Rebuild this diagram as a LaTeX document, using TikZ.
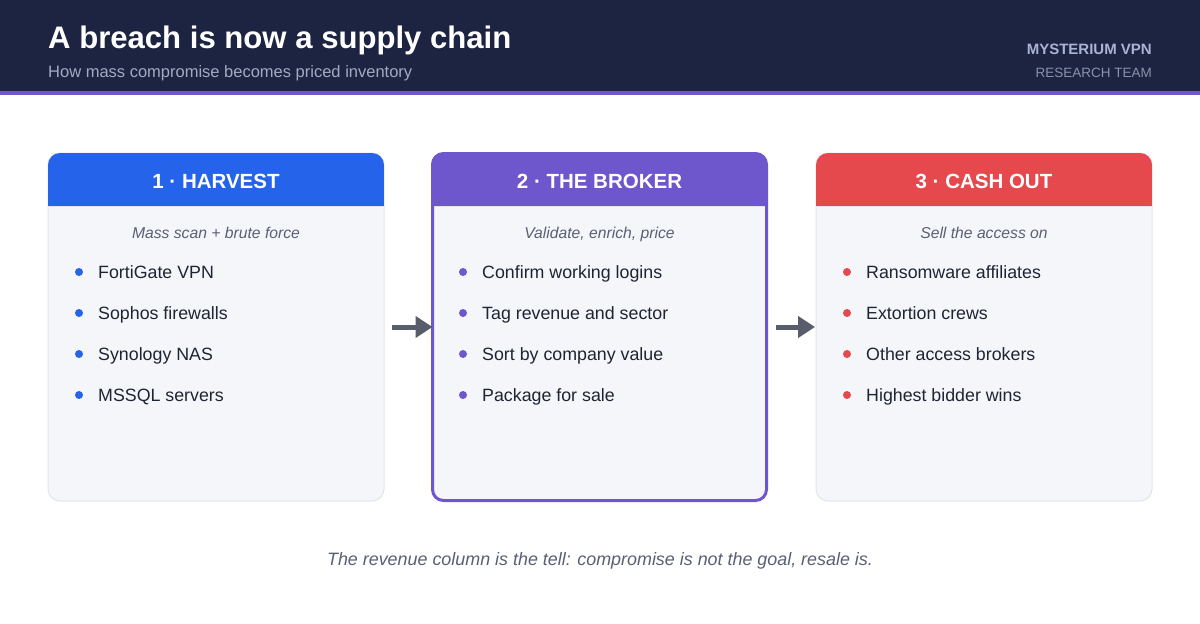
\documentclass[tikz,border=0pt]{standalone}
\usepackage{fontspec}
\setmainfont{Liberation Sans}
\usetikzlibrary{arrows.meta}
\definecolor{navy}{HTML}{1D2442}
\definecolor{stripe}{HTML}{7058C8}
\definecolor{cblue}{HTML}{2563EB}
\definecolor{cpurple}{HTML}{6E56CC}
\definecolor{cred}{HTML}{E5484D}
\definecolor{cardbg}{HTML}{F5F6FA}
\definecolor{cardline}{HTML}{E2E5EC}
\definecolor{bodytxt}{HTML}{1F2433}
\definecolor{subtxt}{HTML}{5A5F73}
\definecolor{arrowc}{HTML}{575D6B}
\definecolor{brand}{HTML}{A9B4D2}
\definecolor{team}{HTML}{8A91A8}
\definecolor{hsub}{HTML}{A3AAC0}
\newcommand{\fsz}[1]{\fontsize{#1}{#1}\selectfont}
\begin{document}
\begin{tikzpicture}[x=1pt,y=-1pt,
  card/.style={rounded corners=12pt, fill=cardbg, inner sep=0pt, outer sep=0pt},
  cardtitle/.style={anchor=base, text=white, font=\fsz{20.5}\bfseries, inner sep=0pt},
  cardsub/.style={anchor=base, text=subtxt, font=\fsz{15.7}\itshape, inner sep=0pt},
  item/.style={anchor=base west, text=bodytxt, font=\fsz{17.8}, inner sep=0pt},
  flow/.style={draw=arrowc, line width=5pt, -{Triangle[length=17pt,width=21pt]}}
]
\useasboundingbox (0,0) rectangle (1200,624);
\fill[white] (0,0) rectangle (1200,624);
% header band
\fill[navy] (0,0) rectangle (1200,91);
\fill[stripe] (0,91) rectangle (1200,95);
\node[anchor=base west, inner sep=0pt, text=white, font=\fsz{31.1}\bfseries] (title) at (48,48) {A breach is now a supply chain};
\node[anchor=base west, inner sep=0pt, text=hsub, font=\fsz{16.5}] (subtitle) at (48,77) {How mass compromise becomes priced inventory};
\node[anchor=base east, inner sep=0pt, text=brand, font=\fsz{15}\bfseries] (brand) at (1152,54) {MYSTERIUM VPN};
\node[anchor=base east, inner sep=0pt, text=team, font=\fsz{13.5}] (team) at (1152,77) {RESEARCH TEAM};

% card 1
\node[card, draw=cardline, line width=1pt, minimum width=336pt, minimum height=348pt] (c1) at (216,327) {};
\begin{scope}
  \clip[rounded corners=12pt] (48,153) rectangle (384,501);
  \fill[cblue] (48,153) rectangle (384,206);
  \draw[cardline, line width=1pt] (48,206.5) -- (384,206.5);
\end{scope}
\node[cardtitle] (t1) at (216,188) {1 · HARVEST};
\node[cardsub] (s1) at (216,238) {Mass scan + brute force};
\foreach \y/\txt [count=\i] in {278/FortiGate VPN, 319/Sophos firewalls, 360/Synology NAS, 401/MSSQL servers}{
  \fill[cblue] (79,\y-6) circle (4pt);
  \node[item] (a\i) at (98,\y) {\txt};
}

% card 2
\node[card, draw=none, minimum width=334pt, minimum height=347pt] (c2) at (599.5,327) {};
\begin{scope}
  \clip[rounded corners=11pt] (432.5,153.5) rectangle (766.5,500.5);
  \fill[cpurple] (432.5,153.5) rectangle (766.5,206);
  \draw[cardline, line width=1pt] (432.5,206.5) -- (766.5,206.5);
\end{scope}
\draw[cpurple, line width=3pt, rounded corners=11pt] (432.5,153.5) rectangle (766.5,500.5);
\node[cardtitle] (t2) at (599.5,188) {2 · THE BROKER};
\node[cardsub] (s2) at (599.5,238) {Validate, enrich, price};
\foreach \y/\txt [count=\i] in {278/Confirm working logins, 319/Tag revenue and sector, 360/Sort by company value, 401/Package for sale}{
  \fill[cpurple] (463,\y-6) circle (4pt);
  \node[item] (b\i) at (482,\y) {\txt};
}

% card 3
\node[card, draw=cardline, line width=1pt, minimum width=336pt, minimum height=348pt] (c3) at (984,327) {};
\begin{scope}
  \clip[rounded corners=12pt] (816,153) rectangle (1152,501);
  \fill[cred] (816,153) rectangle (1152,206);
  \draw[cardline, line width=1pt] (816,206.5) -- (1152,206.5);
\end{scope}
\node[cardtitle] (t3) at (984,188) {3 · CASH OUT};
\node[cardsub] (s3) at (984,238) {Sell the access on};
\foreach \y/\txt [count=\i] in {278/Ransomware affiliates, 319/Extortion crews, 360/Other access brokers, 401/Highest bidder wins}{
  \fill[cred] (847,\y-6) circle (4pt);
  \node[item] (d\i) at (866,\y) {\txt};
}

% arrows
\draw[flow, shorten <=8pt, shorten >=0pt] (c1.east) -- (c2.west);
\draw[flow, shorten <=9pt, shorten >=1pt] (c2.east) -- (c3.west);

% footer
\node[anchor=base, inner sep=0pt, text=subtxt, font=\fsz{17.9}\itshape] (foot) at (600,565) {The revenue column is the tell: compromise is not the goal, resale is.};
\end{tikzpicture}
\end{document}
